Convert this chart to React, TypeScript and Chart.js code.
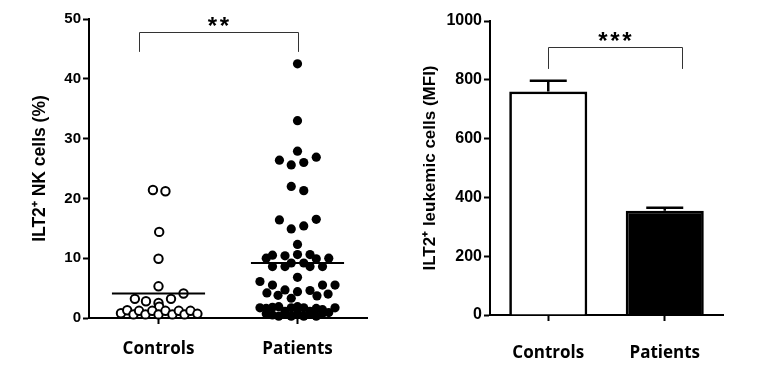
import React, { useEffect, useRef } from "react";
import { Chart, registerables } from "chart.js";
Chart.register(...registerables);

// ---------- data ----------
const groups = ["Controls", "Patients"];

// Left panel: ILT2+ NK cells (%) — values and beeswarm x-offsets (in category units)
const controlsValues = [21.4, 21.2, 14.4, 9.9, 5.3, 4.1, 3.2, 2.8, 2.5, 3.2, 1.9, 0.8, 1.3, 0.6, 1.2, 0.6, 1.2, 0.6, 1.2, 0.6, 1.2, 0.6, 1.2, 0.7];
const controlsJitter = [-0.04, 0.05, 0.005, 0, 0, 0.18, -0.17, -0.09, 0, 0.09, 0.005, -0.27, -0.225, -0.18, -0.14, -0.094, -0.045, 0, 0.05, 0.1, 0.146, 0.187, 0.23, 0.28];

const patientsValues = [
  42.5, 33.0, 27.9,
  26.4, 25.6, 26.0, 26.9,
  22.0, 21.3,
  16.4, 14.9, 15.4, 16.5,
  12.3,
  10.0, 10.5, 10.4, 10.6, 10.6, 9.9, 10.0,
  8.6, 8.6, 9.2, 9.2, 8.6, 8.6,
  6.8,
  6.1, 5.5, 5.5, 5.5,
  4.2, 3.8, 4.7, 4.4, 4.6, 3.7, 4.0,
  3.3,
  1.7, 1.6, 1.8, 1.9, 1.1, 1.7, 1.9, 1.7, 1.1, 1.6, 1.4, 0.9, 1.7,
  0.7, 0.5, 0.3, 0.6, 0.3, 0.8, 0.3, 0.6, 0.3, 0.8,
];
const patientsJitter = [
  0, 0, 0,
  -0.13, -0.045, 0.045, 0.135,
  -0.045, 0.045,
  -0.13, -0.045, 0.045, 0.135,
  0,
  -0.225, -0.18, -0.09, 0, 0.09, 0.135, 0.225,
  -0.18, -0.09, -0.045, 0.045, 0.09, 0.18,
  0,
  -0.27, -0.18, 0.18, 0.27,
  -0.22, -0.14, -0.09, 0, 0.09, 0.14, 0.22,
  -0.045,
  -0.27, -0.225, -0.18, -0.135, -0.09, -0.045, 0, 0.045, 0.09, 0.135, 0.18, 0.225, 0.27,
  -0.225, -0.18, -0.135, -0.09, -0.045, 0, 0.045, 0.09, 0.135, 0.18,
];
const groupMeans = [4.1, 9.2];
const nkTicks = [0, 10, 20, 30, 40, 50];
const nkSignificance = "**";

// Right panel: ILT2+ leukemic cells (MFI)
const mfiValues = [760, 355];
const mfiErrors = [37, 10];
const mfiTicks = [0, 200, 400, 600, 800, 1000];
const mfiSignificance = "***";

// ---------- helpers ----------
const TICK_FONT = "'Liberation Sans', Arial, sans-serif";
const CAT_FONT = "'Open Sans', sans-serif";

function bracketPlugin(id: string, x0: number, x1: number, yTop: number, yLeg: number, stars: string) {
  return {
    id,
    afterDraw(chart: any) {
      const { ctx, scales } = chart;
      const px0 = scales.x.getPixelForValue(x0);
      const px1 = scales.x.getPixelForValue(x1);
      const py = scales.y.getPixelForValue(yTop);
      const pl = scales.y.getPixelForValue(yLeg);
      ctx.save();
      ctx.strokeStyle = "#333";
      ctx.lineWidth = 1;
      ctx.beginPath();
      ctx.moveTo(Math.round(px0) + 0.5, pl);
      ctx.lineTo(Math.round(px0) + 0.5, Math.round(py) + 0.5);
      ctx.lineTo(Math.round(px1) + 0.5, Math.round(py) + 0.5);
      ctx.lineTo(Math.round(px1) + 0.5, pl);
      ctx.stroke();
      ctx.fillStyle = "#000";
      ctx.font = `bold 24px ${TICK_FONT}`;
      ctx.textAlign = "center";
      ctx.textBaseline = "alphabetic";
      const mid = (px0 + px1) / 2;
      const n = stars.length;
      for (let i = 0; i < n; i++) {
        ctx.fillText(stars[i], mid + (i - (n - 1) / 2) * 12, py + 2);
      }
      ctx.restore();
    },
  };
}

const errorBarPlugin = {
  id: "errorBars",
  afterDatasetsDraw(chart: any) {
    const { ctx, scales } = chart;
    const meta = chart.getDatasetMeta(0);
    ctx.save();
    ctx.strokeStyle = "#000";
    ctx.lineWidth = 2.5;
    meta.data.forEach((bar: any, i: number) => {
      const x = bar.x;
      const top = scales.y.getPixelForValue(mfiValues[i]);
      const up = scales.y.getPixelForValue(mfiValues[i] + mfiErrors[i]);
      ctx.beginPath();
      ctx.moveTo(x, top);
      ctx.lineTo(x, up);
      ctx.moveTo(x - 18.5, up);
      ctx.lineTo(x + 18.5, up);
      ctx.stroke();
    });
    ctx.restore();
  },
};

function axisCommon() {
  return {
    border: { display: true, color: "#000", width: 2 },
    grid: { display: true, drawOnChartArea: false, drawTicks: true, tickLength: 6, tickWidth: 2, tickColor: "#000", offset: false },
  };
}

function LeftChart() {
  const ref = useRef<HTMLCanvasElement>(null);
  useEffect(() => {
    const controls = controlsValues.map((v, i) => ({ x: 1 + controlsJitter[i], y: v }));
    const patients = patientsValues.map((v, i) => ({ x: 2 + patientsJitter[i], y: v }));
    const meanLines = groupMeans.map((m, i) => ({
      type: "line",
      data: [
        { x: i + 1 - 0.335, y: m },
        { x: i + 1 + 0.335, y: m },
      ],
      showLine: true,
      borderColor: "#000",
      borderWidth: 2,
      pointRadius: 0,
      order: 0,
    }));
    const chart = new Chart(ref.current!, {
      type: "scatter",
      data: {
        datasets: [
          ...(meanLines as any),
          {
            data: controls,
            pointRadius: 4.2,
            pointBackgroundColor: "#fff",
            pointBorderColor: "#000",
            pointBorderWidth: 2,
            clip: false,
            order: 1,
          },
          {
            data: patients,
            pointRadius: 4.6,
            pointBackgroundColor: "#000",
            pointBorderColor: "#000",
            pointBorderWidth: 0,
            clip: false,
            order: 1,
          },
        ],
      },
      options: {
        animation: false,
        responsive: false,
        layout: { padding: { left: 0, top: 19, right: 23, bottom: 0 } },
        plugins: { legend: { display: false }, tooltip: { enabled: false } },
        scales: {
          x: {
            type: "linear",
            min: 0.5,
            max: 2.5,
            ...axisCommon(),
            afterBuildTicks: (s: any) => {
              s.ticks = groups.map((_, i) => ({ value: i + 1 }));
            },
            afterFit: (s: any) => {
              s.height = 58;
            },
            ticks: {
              color: "#000",
              font: { family: CAT_FONT, size: 17, weight: "bold" },
              padding: 15,
              maxRotation: 0,
              callback: (v: any) => groups[Math.round(v) - 1] ?? "",
            },
          },
          y: {
            type: "linear",
            min: 0,
            max: 50,
            ...axisCommon(),
            afterBuildTicks: (s: any) => {
              s.ticks = nkTicks.map((v) => ({ value: v }));
            },
            afterFit: (s: any) => {
              s.width = 89;
            },
            ticks: {
              color: "#000",
              font: { family: TICK_FONT, size: 15, weight: "bold" },
              padding: 2,
              callback: (v: any) => String(v),
            },
            title: {
              display: true,
              text: "ILT2⁺ NK cells (%)",
              color: "#000",
              font: { family: TICK_FONT, size: 17.5, weight: "bold" },
              padding: { top: 30, bottom: 0 },
            },
          },
        },
      } as any,
      plugins: [bracketPlugin("nkBracket", 0.863, 2.0, 47.8, 44.5, nkSignificance)],
    });
    return () => chart.destroy();
  }, []);
  return <canvas ref={ref} width={390} height={376} style={{ position: "absolute", left: 0, top: 0 }} />;
}

function RightChart() {
  const ref = useRef<HTMLCanvasElement>(null);
  useEffect(() => {
    const chart = new Chart(ref.current!, {
      type: "bar",
      data: {
        labels: groups,
        datasets: [
          {
            data: mfiValues,
            backgroundColor: ["#fff", "#000"],
            borderColor: "#000",
            borderWidth: 2.7,
            borderSkipped: "bottom",
            barPercentage: 0.67,
            categoryPercentage: 1,
          },
        ],
      },
      options: {
        animation: false,
        responsive: false,
        layout: { padding: { left: 0, top: 21, right: 59, bottom: 0 } },
        plugins: { legend: { display: false }, tooltip: { enabled: false } },
        scales: {
          x: {
            type: "category",
            offset: true,
            ...axisCommon(),
            afterFit: (s: any) => {
              s.height = 61;
            },
            ticks: {
              color: "#000",
              font: { family: CAT_FONT, size: 17, weight: "bold" },
              padding: 22,
              maxRotation: 0,
            },
          },
          y: {
            type: "linear",
            min: 0,
            max: 1000,
            ...axisCommon(),
            afterBuildTicks: (s: any) => {
              s.ticks = mfiTicks.map((v) => ({ value: v }));
            },
            afterFit: (s: any) => {
              s.width = 100;
            },
            ticks: {
              color: "#000",
              font: { family: TICK_FONT, size: 16, weight: "bold" },
              padding: 2,
              callback: (v: any) => String(v),
            },
            title: {
              display: true,
              text: "ILT2⁺ leukemic cells (MFI)",
              color: "#000",
              font: { family: TICK_FONT, size: 17, weight: "bold" },
              padding: { top: 30, bottom: 0 },
            },
          },
        },
      } as any,
      plugins: [errorBarPlugin, bracketPlugin("mfiBracket", 0, 1.146, 911, 837, mfiSignificance)],
    });
    return () => chart.destroy();
  }, []);
  return <canvas ref={ref} width={392} height={376} style={{ position: "absolute", left: 390, top: 0 }} />;
}

export default function App() {
  return (
    <div style={{ position: "absolute", left: 0, top: 0, width: 782, height: 376, background: "#fff", overflow: "hidden" }}>
      <LeftChart />
      <RightChart />
    </div>
  );
}
